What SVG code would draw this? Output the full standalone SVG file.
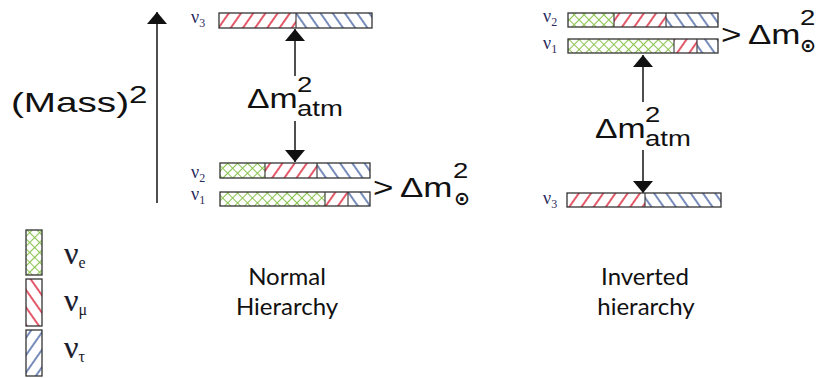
<svg xmlns="http://www.w3.org/2000/svg" width="820" height="378" viewBox="0 0 820 378">
<defs>
<pattern id="pr" width="10" height="10" patternUnits="userSpaceOnUse" patternTransform="rotate(35)"><line x1="5" y1="0" x2="5" y2="10" stroke="#dc2f44" stroke-width="1.6"/></pattern>
<pattern id="pb" width="10" height="10" patternUnits="userSpaceOnUse" patternTransform="rotate(-35)"><line x1="5" y1="0" x2="5" y2="10" stroke="#3d5b9e" stroke-width="1.4"/></pattern>
<pattern id="pg" width="7" height="7" patternUnits="userSpaceOnUse" patternTransform="rotate(45)"><path d="M3.5 0V7M0 3.5H7" stroke="#8cc451" stroke-width="1.1"/></pattern>
<pattern id="lr" width="10" height="10" patternUnits="userSpaceOnUse" patternTransform="rotate(-35)"><line x1="5" y1="0" x2="5" y2="10" stroke="#dc2f44" stroke-width="1.6"/></pattern>
<pattern id="lb" width="10" height="10" patternUnits="userSpaceOnUse" patternTransform="rotate(35)"><line x1="5" y1="0" x2="5" y2="10" stroke="#3d5b9e" stroke-width="1.4"/></pattern>
<marker id="ah" viewBox="0 0 12 20" refX="12" refY="10" markerWidth="13" markerHeight="20" markerUnits="userSpaceOnUse" orient="auto"><path d="M0 0L12 10L0 20Z" fill="#111"/></marker>
</defs>
<style>
.bar{stroke:#333;stroke-width:1.3}
.seg{stroke:#333;stroke-width:1.1}
.conn{stroke:#222;stroke-width:1.6;fill:none}
.sf{font-family:"Liberation Sans",Arial,sans-serif;fill:#111}
.nu{font-family:"Liberation Serif","DejaVu Serif",serif;fill:#2a2a5c}
.lg{font-family:"Liberation Serif","DejaVu Serif",serif;fill:#1a1a2a;stroke:#1a1a2a;stroke-width:0.2}
.cal{font-family:Lato,"Open Sans",sans-serif;font-size:24px;fill:#111;text-anchor:middle}
.sun{font-family:"DejaVu Sans",sans-serif;fill:#111;font-weight:bold}
</style>

<g id="connectors">
<line class="conn" x1="157" y1="203" x2="157" y2="12" marker-end="url(#ah)"/>
<line class="conn" x1="295" y1="76" x2="295" y2="29" marker-end="url(#ah)"/>
<line class="conn" x1="295" y1="121" x2="295" y2="162" marker-end="url(#ah)"/>
<line class="conn" x1="643" y1="102" x2="643" y2="55" marker-end="url(#ah)"/>
<line class="conn" x1="643" y1="150" x2="643" y2="193" marker-end="url(#ah)"/>
</g>

<g id="axis-label">
<text class="sf" transform="translate(11,112) scale(1.38,1)" font-size="28">(Mass)<tspan font-size="24" dy="-9">2</tspan></text>
</g>

<g id="normal-nu3">
<rect x="219" y="13" width="77" height="15" fill="url(#pr)"/>
<rect x="296" y="13" width="76" height="15" fill="url(#pb)"/>
<rect class="bar" x="219" y="13" width="153" height="15" fill="none"/>
<line class="seg" x1="296" y1="13" x2="296" y2="28"/>
<text class="nu" x="191" y="23" font-size="18">ν<tspan font-size="12" dy="4">3</tspan></text>
</g>

<g id="normal-nu2">
<rect x="220" y="163" width="45" height="15" fill="url(#pg)"/>
<rect x="265" y="163" width="52" height="15" fill="url(#pr)"/>
<rect x="317" y="163" width="53" height="15" fill="url(#pb)"/>
<rect class="bar" x="220" y="163" width="150" height="15" fill="none"/>
<line class="seg" x1="265" y1="163" x2="265" y2="178"/>
<line class="seg" x1="317" y1="163" x2="317" y2="178"/>
<text class="nu" x="191" y="178" font-size="18">ν<tspan font-size="12" dy="4">2</tspan></text>
</g>

<g id="normal-nu1">
<rect x="220" y="192" width="105" height="14" fill="url(#pg)"/>
<rect x="325" y="192" width="23" height="14" fill="url(#pr)"/>
<rect x="348" y="192" width="22" height="14" fill="url(#pb)"/>
<rect class="bar" x="220" y="192" width="150" height="14" fill="none"/>
<line class="seg" x1="325" y1="192" x2="325" y2="206"/>
<line class="seg" x1="348" y1="192" x2="348" y2="206"/>
<text class="nu" x="191" y="200" font-size="18">ν<tspan font-size="12" dy="4">1</tspan></text>
</g>

<g id="normal-atm">
<text class="sf" transform="translate(247,108) scale(1.25,1)" font-size="27">Δm</text>
<text class="sf" transform="translate(297,92) scale(1.25,1)" font-size="22">2</text>
<text class="sf" transform="translate(297,116) scale(1.25,1)" font-size="22">atm</text>
</g>

<g id="normal-sol">
<text class="sf" transform="translate(373,197) scale(1.25,1)" font-size="28">&gt;</text>
<text class="sf" transform="translate(400,197) scale(1.25,1)" font-size="28">Δm</text>
<text class="sf" transform="translate(453,178) scale(1.25,1)" font-size="22">2</text>
<text class="sun" x="462" y="205" font-size="19" text-anchor="middle">⊙</text>
</g>

<g id="inverted-nu2">
<rect x="568" y="13" width="46" height="14" fill="url(#pg)"/>
<rect x="614" y="13" width="52" height="14" fill="url(#pr)"/>
<rect x="666" y="13" width="52" height="14" fill="url(#pb)"/>
<rect class="bar" x="568" y="13" width="150" height="14" fill="none"/>
<line class="seg" x1="614" y1="13" x2="614" y2="27"/>
<line class="seg" x1="666" y1="13" x2="666" y2="27"/>
<text class="nu" x="543" y="22" font-size="18">ν<tspan font-size="12" dy="4">2</tspan></text>
</g>

<g id="inverted-nu1">
<rect x="568" y="39" width="106" height="14" fill="url(#pg)"/>
<rect x="674" y="39" width="23" height="14" fill="url(#pr)"/>
<rect x="697" y="39" width="21" height="14" fill="url(#pb)"/>
<rect class="bar" x="568" y="39" width="150" height="14" fill="none"/>
<line class="seg" x1="674" y1="39" x2="674" y2="53"/>
<line class="seg" x1="697" y1="39" x2="697" y2="53"/>
<text class="nu" x="543" y="49" font-size="18">ν<tspan font-size="12" dy="4">1</tspan></text>
</g>

<g id="inverted-nu3">
<rect x="567" y="193" width="78" height="14" fill="url(#pr)"/>
<rect x="645" y="193" width="76" height="14" fill="url(#pb)"/>
<rect class="bar" x="567" y="193" width="154" height="14" fill="none"/>
<line class="seg" x1="645" y1="193" x2="645" y2="207"/>
<text class="nu" x="543" y="204" font-size="18">ν<tspan font-size="12" dy="4">3</tspan></text>
</g>

<g id="inverted-atm">
<text class="sf" transform="translate(595,138) scale(1.25,1)" font-size="27">Δm</text>
<text class="sf" transform="translate(645,122) scale(1.25,1)" font-size="22">2</text>
<text class="sf" transform="translate(645,146) scale(1.25,1)" font-size="22">atm</text>
</g>

<g id="inverted-sol">
<text class="sf" transform="translate(721,44) scale(1.25,1)" font-size="28">&gt;</text>
<text class="sf" transform="translate(748,44) scale(1.25,1)" font-size="28">Δm</text>
<text class="sf" transform="translate(800,25) scale(1.25,1)" font-size="22">2</text>
<text class="sun" x="808" y="52" font-size="19" text-anchor="middle">⊙</text>
</g>

<g id="legend-e">
<rect x="26" y="230" width="16" height="45" fill="url(#pg)" class="bar"/>
<text class="lg" x="64" y="264" font-size="32">ν<tspan font-size="16" dy="4" stroke-width="0">e</tspan></text>
</g>
<g id="legend-mu">
<rect x="26" y="279" width="16" height="47" fill="url(#lr)" class="bar"/>
<text class="lg" x="64" y="311" font-size="32">ν<tspan font-size="16" dy="4" stroke-width="0">μ</tspan></text>
</g>
<g id="legend-tau">
<rect x="26" y="330" width="16" height="46" fill="url(#lb)" class="bar"/>
<text class="lg" x="64" y="358" font-size="32">ν<tspan font-size="16" dy="4" stroke-width="0">τ</tspan></text>
</g>

<g id="label-normal">
<text class="cal" x="287" y="285">Normal</text>
<text class="cal" x="287" y="315">Hierarchy</text>
</g>
<g id="label-inverted">
<text class="cal" x="645" y="285">Inverted</text>
<text class="cal" x="646" y="315">hierarchy</text>
</g>
</svg>
